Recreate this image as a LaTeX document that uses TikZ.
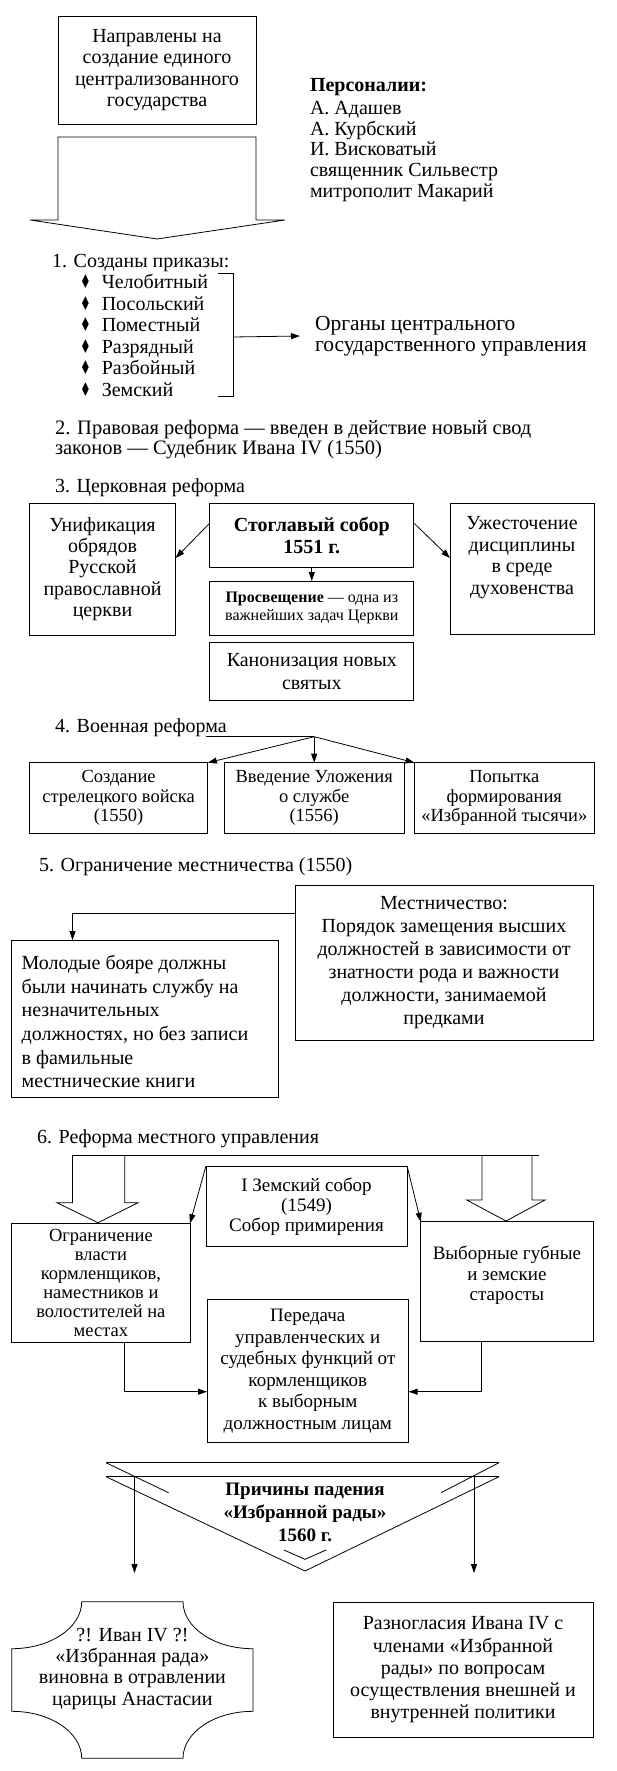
\documentclass[tikz,border=0pt]{standalone}
\usepackage{fontspec}
\usepackage{graphicx}
\setmainfont{Liberation Serif}
\newfontfamily\dejavu{DejaVu Sans}
\usetikzlibrary{arrows.meta}
\newcommand\dmd{\scalebox{0.6}[0.95]{\dejavu ♦}\hspace{11pt}}
\begin{document}
\begin{tikzpicture}[x=1pt,y=-1pt,
  every node/.style={inner sep=0pt, outer sep=0pt, align=center},
  fs/.style 2 args={font=\fontsize{#1}{#2}\selectfont},
  fsb/.style 2 args={font=\fontsize{#1}{#2}\selectfont\bfseries},
  box/.style={draw, line width=0.8pt},
  ln/.style={line width=0.8pt},
  arr/.style={line width=0.8pt, -{Triangle[length=9pt,width=6pt]}}]
\fill[white] (0,0) rectangle (616,1771);
\useasboundingbox (0,0) rectangle (616,1771);

% top
\node[box, fs={20}{21.3}, minimum width=198pt, minimum height=108pt] (goal) at (157,70)
  {Направлены на\\создание единого\\централизованного\\государства};
\draw[ln] (58,137) -- (256,137) -- (256,220) -- (285,220) -- (157,239) -- (30,220) -- (58,220) -- cycle;
\node[fsb={20}{21.5}, anchor=west] (pers) at (310,87) {Персоналии:};
\node[fs={20}{20.7}, anchor=west, align=left] (names) at (310,151.4)
  {А. Адашев\\А. Курбский\\И. Висковатый\\священник Сильвестр\\митрополит Макарий};

% section 1
\node[fs={20}{21.5}, anchor=west] (s1) at (52,262.7) {1. Созданы приказы:};
\node[fs={20}{21.5}, anchor=west, align=left] (prk) at (80,335.5)
  {\dmd Челобитный\\\dmd Посольский\\\dmd Поместный\\\dmd Разрядный\\\dmd Разбойный\\\dmd Земский};
\draw[ln] (217.6,273) -- (233,273) -- (233,396.7) -- (217.6,396.7);
\coordinate (brk) at (233,337);
\node[fs={21.5}{21.5}, anchor=west, align=left] (org) at (315,336)
  {Органы центрального\\государственного управления};
\draw[arr] (brk) -- ([xshift=-15pt]org.west);

% section 2
\node[fs={20.5}{20}, anchor=west, align=left] (s2) at (55,440)
  {2. Правовая реформа — введен в действие новый свод\\законов — Судебник Ивана IV (1550)};

% section 3
\node[fs={20}{21.5}, anchor=west] (s3) at (55,488) {3. Церковная реформа};
\node[box, fs={20}{21.3}, minimum width=146.3pt, minimum height=132pt] (cL) at (102.5,569)
  {Унификация\\обрядов\\Русской\\православной\\церкви};
\node[box, fsb={20}{21.7}, minimum width=203.9pt, minimum height=64.7pt] (cC) at (311.8,535.3)
  {Стоглавый собор\\1551 г.};
\node[box, minimum width=144pt, minimum height=131pt] (cR) at (522,568.5) {};
\node[fs={20}{21.7}] (cRt) at (522,557.5) {Ужесточение\\дисциплины\\в среде\\духовенства};
\node[box, fs={16}{18.3}, minimum width=203.9pt, minimum height=54pt] (cM) at (311.8,608)
  {\textbf{Просвещение} — одна из\\важнейших задач Церкви};
\node[box, fs={20}{22.7}, minimum width=203.9pt, minimum height=57.7pt] (cK) at (311.8,671.2)
  {Канонизация новых\\святых};
\draw[arr] ([yshift=-20pt]cC.north west) -- ([yshift=-55pt]cL.north east);
\draw[arr] ([yshift=-20pt]cC.north east) -- ([yshift=-55pt]cR.north west);
\draw[arr] (cC.south) -- (cM.north);

% section 4
\node[fs={20}{21.5}, anchor=west] (s4) at (55,727.3) {4. Военная реформа};
\coordinate (vh) at (206,736.7);
\coordinate (vj) at (314.2,736.7);
\draw[ln] (vh) -- (vj);
\node[box, fs={18.5}{19.5}, minimum width=178.4pt, minimum height=70.6pt] (vL) at (118.6,798)
  {Создание\\стрелецкого войска\\(1550)};
\node[box, fs={18.5}{19.5}, minimum width=179.7pt, minimum height=70.6pt] (vM) at (314.2,798)
  {Введение Уложения\\о службе\\(1556)};
\node[box, fs={18.5}{19.5}, minimum width=179.5pt, minimum height=70.6pt] (vR) at (504.3,798)
  {Попытка\\формирования\\«Избранной тысячи»};
\draw[arr] (vj) -- (vM.north);
\draw[arr] (vj) -- (vL.north east);
\draw[arr] (vj) -- (vR.north west);

% section 5
\node[fs={20}{21.5}, anchor=west] (s5) at (39,866.7) {5. Ограничение местничества (1550)};
\node[box, fs={20}{23}, minimum width=298pt, minimum height=155pt] (mR) at (444,962.5)
  {Местничество:\\Порядок замещения высших\\должностей в зависимости от\\знатности рода и важности\\должности, занимаемой\\предками};
\node[box, minimum width=266.6pt, minimum height=157.3pt] (mL) at (145.1,1018.7) {};
\node[fs={20}{23.6}, anchor=west, align=left] (mLt) at (21.6,1021.7)
  {Молодые бояре должны\\были начинать службу на\\незначительных\\должностях, но без записи\\в фамильные\\местнические книги};
\draw[arr] ([yshift=-28.3pt]mR.north west) -| ([xshift=60.7pt]mL.north west);

% section 6
\node[fs={20}{21.5}, anchor=west] (s6) at (37,1138.3) {6. Реформа местного управления};
\draw[ln] (72.5,1155) -- (539,1155);
\draw[ln] (72.5,1155) -- (72.5,1202.7) -- (56.9,1202.7) -- (98,1222.7) -- (138,1202.7) -- (124.7,1202.7) -- (124.7,1155);
\draw[ln] (482,1155) -- (482,1200) -- (466.7,1200) -- (506,1221) -- (545,1200) -- (532,1200) -- (532,1155);
\node[box, fs={19}{20}, minimum width=201.1pt, minimum height=80.7pt] (zS) at (306.5,1206.3)
  {I Земский собор\\(1549)\\Собор примирения};
\node[box, fs={18.5}{19}, minimum width=178.2pt, minimum height=119pt] (zL) at (100.9,1282.8)
  {Ограничение\\власти\\кормленщиков,\\наместников и\\волостителей на\\местах};
\node[box, minimum width=172.2pt, minimum height=119.3pt] (zR) at (506.9,1281.4) {};
\node[fs={19}{20.4}] (zRt) at (506.9,1275.5) {Выборные губные\\и земские\\старосты};
\node[box, fs={19}{21.6}, minimum width=201.6pt, minimum height=143.4pt] (zB) at (307.8,1371)
  {Передача\\управленческих и\\судебных функций от\\кормленщиков\\к выборным\\должностным лицам};
\draw[arr] (zS.north west) -- (zL.north east);
\draw[arr] (zS.north east) -- (zR.north west);
\draw[arr] ([xshift=112.9pt]zL.south west) |- ([yshift=-20.7pt]zB.west);
\draw[arr] ([xshift=60.8pt]zR.south west) |- ([yshift=-20.7pt]zB.east);

% fall of the Rada
\draw[ln] (106,1462.7) -- (499,1462.7);
\draw[ln] (106,1476.7) -- (499,1476.7);
\draw[ln] (106,1462.7) -- (168.6,1492.7);
\draw[ln] (499,1462.7) -- (441,1492.7);
\draw[ln] (106,1476.7) -- (305,1571) -- (499,1476.7);
\draw[ln] (284,1550) -- (305,1559.3) -- (326,1550);
\node[fsb={19}{23}] (pr) at (305,1512) {Причины падения\\«Избранной рады»\\1560 г.};
\coordinate (pl1) at (134.5,1476.7);
\coordinate (pl2) at (134.5,1573);
\coordinate (pr1) at (474,1476.7);
\coordinate (pr2) at (474,1573);
\draw[arr] (pl1) -- (pl2);
\draw[arr] (pr1) -- (pr2);

% cross-shaped box
\def\L{11.7}\def\R{253}\def\T{1601.7}\def\B{1758.3}\def\rx{70}\def\ry{47}
\draw[ln] (\L+\rx,\T) -- (\R-\rx,\T)
  .. controls (\R-\rx,\T+0.5523*\ry) and (\R-0.5523*\rx,\T+\ry) .. (\R,\T+\ry)
  -- (\R,\B-\ry)
  .. controls (\R-0.5523*\rx,\B-\ry) and (\R-\rx,\B-0.5523*\ry) .. (\R-\rx,\B)
  -- (\L+\rx,\B)
  .. controls (\L+\rx,\B-0.5523*\ry) and (\L+0.5523*\rx,\B-\ry) .. (\L,\B-\ry)
  -- (\L,\T+\ry)
  .. controls (\L+0.5523*\rx,\T+\ry) and (\L+\rx,\T+0.5523*\ry) .. cycle;
\node[fs={20}{21.3}] (iv) at (132.4,1668.7)
  {?! Иван IV ?!\\«Избранная рада»\\виновна в отравлении\\царицы Анастасии};
\node[box, fs={20}{22.2}, minimum width=260pt, minimum height=135.7pt] (rz) at (463,1669.9)
  {Разногласия Ивана IV с\\членами «Избранной\\рады» по вопросам\\осуществления внешней и\\внутренней политики};
\end{tikzpicture}
\end{document}
